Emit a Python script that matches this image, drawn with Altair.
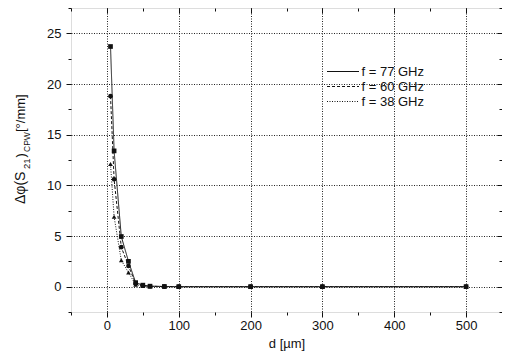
import altair as alt
import pandas as pd

# ---- data ----
D_UM = [5, 10, 20, 30, 40, 50, 60, 80, 100, 200, 300, 500]
S77 = [23.7, 13.4, 4.95, 2.5, 0.4, 0.15, 0.05, 0.02, 0.0, 0.0, 0.0, 0.0]
S60 = [18.8, 10.6, 3.9, 2.05, 0.3, 0.1, 0.04, 0.01, 0.0, 0.0, 0.0, 0.0]
S38 = [12.1, 6.9, 2.6, 1.4, 0.2, 0.07, 0.03, 0.01, 0.0, 0.0, 0.0, 0.0]
SERIES = ["f = 77 GHz", "f = 60 GHz", "f = 38 GHz"]
MARKER_KEYS = ["77", "60", "38"]
X_MAJOR = [0, 100, 200, 300, 400, 500]
X_MINOR = [-50, 0, 50, 100, 150, 200, 250, 300, 350, 400, 450, 500, 550]
Y_MAJOR = [0, 5, 10, 15, 20, 25]
Y_MINOR = [-2.5, 0, 2.5, 5, 7.5, 10, 12.5, 15, 17.5, 20, 22.5, 25, 27.5]
X_TITLE = "d [µm]"
Y_TITLE_PARTS = ["Δφ(S", "21", ")", "CPW", " [°/mm]"]

rows = []
for name, key, vals in zip(SERIES, MARKER_KEYS, [S77, S60, S38]):
    for d, v in zip(D_UM, vals):
        rows.append({"d": d, "v": v, "series": name, "marker": key})
df = pd.DataFrame(rows)

FONT = "Liberation Sans"
W, H = 431, 304
PAD_L = 63

xs = alt.Scale(domain=[-50, 550], nice=False, zero=False)
ys = alt.Scale(domain=[-2.5, 27.5], nice=False, zero=False)

common_axis = dict(domain=False, tickColor="#111", labelFont=FONT, labelFontSize=13,
                   labelColor="#111", titleFont=FONT, titleFontSize=13,
                   titleColor="#111", titleFontWeight="normal", zindex=0)

def xaxis(values, size, labels, grid, orient="bottom", offset=0, title=None):
    return alt.Axis(values=values, tickSize=size, labels=labels, grid=grid, orient=orient,
                    offset=offset, title=title, gridColor="#222", gridDash=[1, 1.5],
                    gridWidth=1, labelPadding=2, titlePadding=5, **common_axis)

def yaxis(values, size, labels, grid, orient="left", offset=0):
    return alt.Axis(values=values, tickSize=size, labels=labels, grid=grid, orient=orient,
                    offset=offset, title=None, gridColor="#222", gridDash=[1, 1.5],
                    gridWidth=1, labelPadding=5, **common_axis)

base = alt.Chart(df)

LEG_X, LEG_Y = 249.5, 50
leg_common = dict(title=None, orient="none", legendX=LEG_X, legendY=LEG_Y, padding=6,
                  clipHeight=15, rowPadding=0, labelFont=FONT, labelFontSize=13,
                  labelColor="#111", cornerRadius=0)

# legend A: line samples + labels, transparent (drawn on top)
legend_lines = alt.Legend(
    symbolType="stroke", symbolSize=1024, symbolStrokeWidth=1,
    symbolStrokeColor="#111", symbolOffset=0, labelOffset=2, zindex=1, **leg_common)

# legend B: white box + markers centred on the line samples (drawn underneath)
legend_marks = alt.Legend(
    symbolSize=24, symbolStrokeWidth=0, symbolFillColor="#111",
    symbolOffset=16, labelOffset=6, labelOpacity=0,
    labelExpr="'f = ' + datum.label + ' GHz'",
    fillColor="white", strokeColor="#111", zindex=0, **leg_common)

lines = base.mark_line(color="#111", strokeWidth=1).encode(
    x=alt.X("d:Q", scale=xs, axis=xaxis(X_MAJOR, 5, True, True, title=X_TITLE)),
    y=alt.Y("v:Q", scale=ys, axis=yaxis(Y_MAJOR, 5, True, True)),
    strokeDash=alt.StrokeDash("series:N", sort=SERIES,
                              scale=alt.Scale(domain=SERIES, range=[[1, 0], [3, 2], [1, 1.5]]),
                              legend=legend_lines),
    detail="series:N",
)

points = base.mark_point(filled=True, color="#111", opacity=1).encode(
    x=alt.X("d:Q", scale=xs, axis=xaxis(X_MINOR, 3, False, False)),
    y=alt.Y("v:Q", scale=ys, axis=yaxis(Y_MINOR, 3, False, False)),
    shape=alt.Shape("marker:N", sort=MARKER_KEYS,
                    scale=alt.Scale(domain=MARKER_KEYS, range=["square", "circle", "triangle-up"]),
                    legend=legend_marks),
    size=alt.Size("marker:N", scale=alt.Scale(domain=MARKER_KEYS, range=[22, 22, 30]), legend=None),
)

top_right_major = base.mark_point(opacity=0).encode(
    x=alt.X("d:Q", scale=xs, axis=xaxis(X_MAJOR, 5, False, False, orient="bottom", offset=-H)),
    y=alt.Y("v:Q", scale=ys, axis=yaxis(Y_MAJOR, 5, False, False, orient="left", offset=-W)),
)
top_right_minor = base.mark_point(opacity=0).encode(
    x=alt.X("d:Q", scale=xs, axis=xaxis(X_MINOR, 3, False, False, orient="bottom", offset=-H)),
    y=alt.Y("v:Q", scale=ys, axis=yaxis(Y_MINOR, 3, False, False, orient="left", offset=-W)),
)

def tpiece(text, x, y, size):
    return alt.Chart(alt.Data(values=[{}])).mark_text(
        text=text, angle=270, align="left", baseline="alphabetic",
        font=FONT, fontSize=size, color="#111").encode(x=alt.value(x), y=alt.value(y))

title_layers = [
    tpiece(Y_TITLE_PARTS[0], -46, 196, 14),
    tpiece(Y_TITLE_PARTS[1], -41, 161, 9.5),
    tpiece(Y_TITLE_PARTS[2], -46, 149.5, 13),
    tpiece(Y_TITLE_PARTS[3], -41, 144, 8.5),
    tpiece(Y_TITLE_PARTS[4], -46, 124, 13),
]

chart = alt.layer(lines, points, top_right_major, top_right_minor, *title_layers).resolve_axis(
    x="independent", y="independent"
).properties(
    width=W, height=H,
    autosize=alt.AutoSizeParams(type="none"),
    padding={"left": PAD_L, "top": 0, "right": 0, "bottom": 40},
).configure_view(stroke="#111", strokeWidth=1.4).configure(background="white")

chart.save("out.html", embed_options={"renderer": "svg", "actions": False})
